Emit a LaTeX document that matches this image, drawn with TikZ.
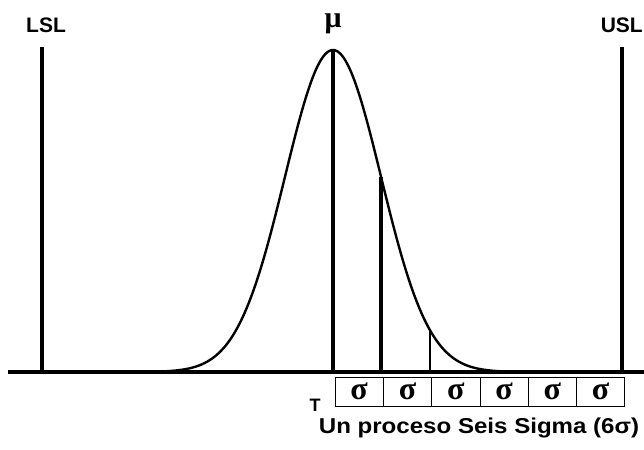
\documentclass[tikz,border=0pt]{standalone}
\usepackage{fontspec}
\setmainfont{Liberation Sans}
\newfontfamily\griega{Liberation Serif}
\usetikzlibrary{positioning}

\begin{document}
\begin{tikzpicture}[x=1pt,y=-1pt,
  etiqueta/.style={font=\fontsize{21}{22}\selectfont\bfseries,inner sep=0pt},
  limite/.style={line width=3.5pt},
  sigmabox/.style={draw,line width=0.8pt,minimum width=48.3pt,minimum height=29pt,
    inner sep=0pt,outer sep=0pt,font=\griega\bfseries\fontsize{32}{32}\selectfont}]

\useasboundingbox (0,0) rectangle (644,449);

% Eje horizontal
\coordinate (eje-izq) at (8,372);
\coordinate (eje-der) at (646,372);
\draw[line width=4pt] (eje-izq) -- (eje-der);

% Limites de especificacion
\node[etiqueta] (lsl) at (46,25) {LSL};
\coordinate (lsl-arriba) at (42,47);
\coordinate (lsl-abajo) at (42,372);
\draw[limite] (lsl-arriba) -- (lsl-abajo);

\node[etiqueta,anchor=east] (usl) at (643,25) {USL};
\coordinate (usl-arriba) at (622,47);
\coordinate (usl-abajo) at (622,372);
\draw[limite] (usl-arriba) -- (usl-abajo);

% Curva normal
\draw[line width=2.4pt] plot[domain=-3.5:3.5,samples=120,smooth]
  ({333+48*\x},{372-322*exp(-\x*\x/2)});

% Media y sigmas
\node[font=\griega\bfseries\fontsize{30}{30}\selectfont,inner sep=0pt] (mu) at (333,24) {μ};
\coordinate (media) at (333,50);
\coordinate (media-pie) at (333,372);
\draw[line width=4pt] (media) -- (media-pie);

\coordinate (uno) at (381,177);
\coordinate (uno-pie) at (381,372);
\draw[line width=4pt] (uno) -- (uno-pie);

\coordinate (dos) at (430,330);
\coordinate (dos-pie) at (430,372);
\draw[line width=2pt] (dos) -- (dos-pie);

% Cajas sigma
\node[sigmabox] (s1) at (359.15,391.5) {σ};
\foreach \i [count=\j from 2] in {1,...,5}
  \node[sigmabox,right=0pt of s\i] (s\j) {σ};

\node[font=\fontsize{18}{18}\selectfont\bfseries,inner sep=0pt] (t) at (315,405) {T};

% Texto inferior
\node[etiqueta,font=\fontsize{21.5}{24}\selectfont\bfseries,xscale=1.12] (titulo) at (479,428)
  {Un proceso Seis Sigma (6σ)};

\end{tikzpicture}
\end{document}
